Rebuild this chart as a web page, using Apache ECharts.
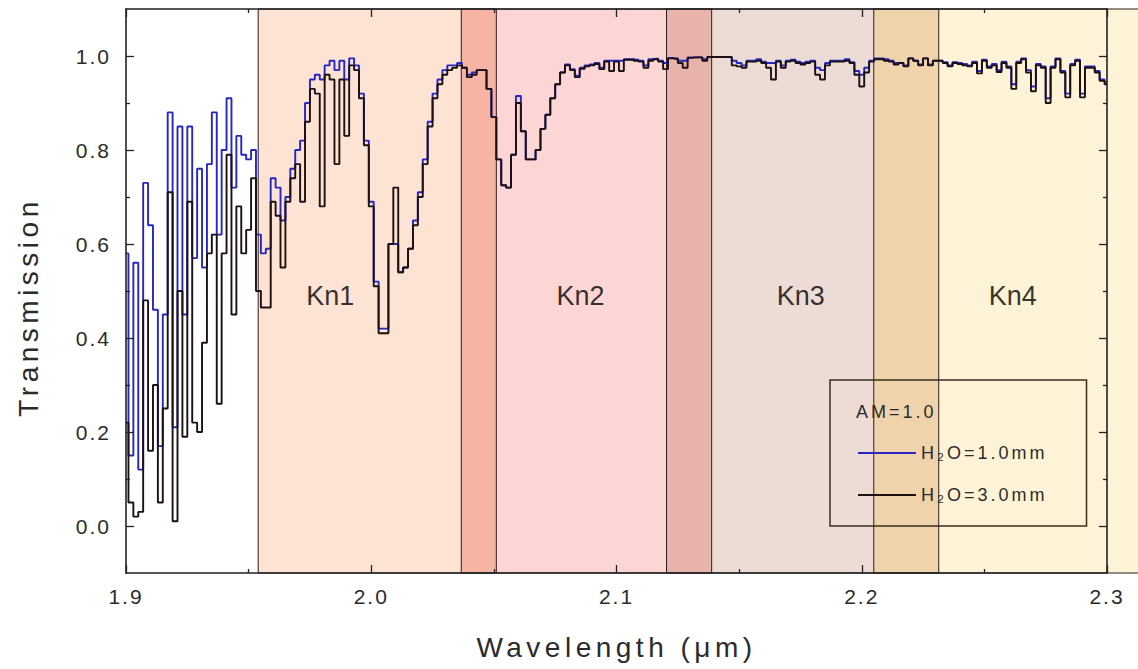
<!DOCTYPE html>
<html><head><meta charset="utf-8">
<script src="https://cdn.jsdelivr.net/npm/echarts@6/dist/echarts.min.js"></script>
<style>
html,body{margin:0;padding:0;background:#fff;}
#chart{width:1138px;height:669px;}
#chart text{letter-spacing:3px;}
#chart text[style*="21px"]{letter-spacing:2px;}
#chart text[style*="28px"]{letter-spacing:4.5px;}
#chart text[style*="27px"]{letter-spacing:0;}
</style>
</head><body><div id="chart"></div>
<script>
// ---- data ----
const WL_START = 1.9, WL_STEP = 0.002;   // wavelength grid (µm)
const trans1mm = [
.58,.15,.56,.12,.73,.64,.46,.17,.45,.88,
.21,.85,.45,.85,.57,.76,.55,.77,.88,.62,
.80,.91,.72,.83,.79,.78,.80,.62,.58,.59,
.74,.72,.65,.70,.76,.80,.82,.90,.95,.96,
.95,.98,.99,.97,.99,.95,.995,.98,.92,.82,
.69,.52,.42,.42,.60,.60,.54,.55,.59,.65,
.71,.78,.86,.92,.95,.97,.98,.98,.985,.975,
.96,.965,.97,.97,.93,.87,.78,.725,.72,.79,
.915,.84,.78,.78,.80,.845,.875,.91,.94,.965,
.982,.972,.958,.975,.98,.982,.985,.975,.99,.99,
.99,.99,.993,.993,.992,.99,.98,.993,.994,.99,
.985,.996,.995,.99,.99,.997,.997,.997,.993,.998,
.998,.998,.998,.998,.99,.985,.98,.99,.99,.993,
.988,.985,.985,.99,.98,.99,.992,.988,.985,.988,
.99,.975,.97,.985,.99,.99,.99,.993,.987,.968,
.96,.975,.99,.995,.995,.993,.99,.985,.985,.98,
.995,.99,.982,.995,.982,.99,.99,.987,.98,.987,
.985,.983,.98,.988,.968,.992,.978,.983,.97,.988,
.978,.94,.988,.995,.97,.935,.983,.978,.91,.978,
.995,.968,.92,.983,.992,.92,.978,.978,.968,.95,.945];
const trans3mm = [
.22,.05,.02,.03,.48,.16,.30,.05,.25,.71,
.01,.50,.19,.69,.22,.20,.39,.58,.62,.26,
.58,.79,.45,.68,.58,.63,.74,.50,.465,.465,
.69,.66,.55,.69,.74,.77,.69,.86,.93,.92,
.68,.96,.95,.77,.95,.83,.98,.97,.91,.81,
.68,.51,.41,.41,.60,.72,.54,.55,.59,.64,
.70,.77,.85,.91,.94,.96,.97,.975,.98,.975,
.955,.96,.97,.97,.93,.87,.78,.725,.72,.79,
.90,.84,.78,.78,.80,.845,.875,.91,.94,.965,
.98,.97,.955,.973,.978,.98,.983,.972,.988,.968,
.988,.968,.992,.992,.99,.988,.975,.99,.993,.988,
.972,.995,.994,.985,.975,.996,.997,.997,.99,.998,
.998,.998,.998,.998,.98,.978,.975,.988,.988,.99,
.985,.975,.95,.988,.975,.988,.99,.985,.982,.985,
.988,.96,.95,.98,.988,.988,.988,.99,.985,.96,
.935,.965,.988,.993,.993,.99,.988,.982,.985,.978,
.995,.99,.98,.995,.98,.99,.99,.985,.978,.985,
.983,.98,.978,.985,.963,.99,.975,.98,.966,.985,
.975,.93,.985,.993,.965,.925,.98,.975,.90,.975,
.993,.965,.912,.98,.99,.912,.975,.975,.965,.947,.94];
const seriesNames = ['H\u2082O=1.0mm', 'H\u2082O=3.0mm'];
const bandNames  = ['Kn1', 'Kn2', 'Kn3', 'Kn4'];
const bandStart  = [1.9539, 2.0367, 2.1204, 2.2049];
const bandEnd    = [2.0510, 2.1388, 2.2314, 2.33];
const bandLabelX = [1.9833, 2.0853, 2.1751, 2.2616];
const bandLabelY = 0.49;
const yMajorTicks = [0, 0.2, 0.4, 0.6, 0.8, 1.0];
const yMinorTicks = [0.1, 0.3, 0.5, 0.7, 0.9];
const X_MIN = 1.9, X_MAX = 2.3, Y_MIN = -0.1, Y_MAX = 1.1;
const legendTitle = 'AM=1.0';

// ---- style ----
const FONT = '"Liberation Sans", Arial, sans-serif';
const AX = '#222222', TXT = '#2b2b2b';
const bandColors = ['#fde3d3', '#fcd6d4', '#ecdcd5', '#fef3d6'];
const overlapColors = ['#f7b3a4', '#e8b3aa', '#efd3aa'];

const wavelengths = trans1mm.map((_, i) => +(WL_START + i * WL_STEP).toFixed(4));
const overlaps = [];
for (let i = 0; i < bandStart.length - 1; i++) {
  if (bandEnd[i] > bandStart[i + 1]) overlaps.push([bandStart[i + 1], bandEnd[i], i]);
}

function rectItem(fill, stroke) {
  return function (params, api) {
    const p0 = api.coord([api.value(0), Y_MAX]);
    const p1 = api.coord([api.value(1), Y_MIN]);
    return {
      type: 'rect',
      shape: { x: p0[0], y: p0[1], width: p1[0] - p0[0], height: p1[1] - p0[1] },
      style: stroke ? { fill: 'none', stroke: stroke, lineWidth: 1 }
                    : { fill: fill[api.value(2)] }
    };
  };
}

const gridBox = { left: 126, right: 31, top: 9, bottom: 96 };
const chart = echarts.init(document.getElementById('chart'), null, { renderer: 'svg' });
const xCommon = { type: 'value', min: X_MIN, max: X_MAX, interval: 0.1, z: 10 };
const yCommon = { type: 'value', min: Y_MIN, max: Y_MAX, z: 10, splitLine: { show: false } };
const axLine = { show: true, onZero: false, lineStyle: { color: AX, width: 1.6 } };
chart.setOption({
  animation: false,
  backgroundColor: '#fff',
  textStyle: { fontFamily: FONT },
  title: {
    text: legendTitle, left: 856, top: 403, padding: 0,
    textStyle: { fontSize: 18, fontWeight: 'normal', color: TXT, fontFamily: FONT }
  },
  legend: {
    data: seriesNames, orient: 'vertical', left: 830, top: 380,
    padding: [64, 66, 22, 27], itemWidth: 58, itemHeight: 14, itemGap: 24,
    borderColor: '#3b2c22', borderWidth: 1.5, z: 12,
    itemStyle: { opacity: 0 },
    textStyle: { fontSize: 18, color: TXT, fontFamily: FONT }
  },
  grid: [Object.assign({}, gridBox), Object.assign({}, gridBox)],
  xAxis: [
    Object.assign({}, xCommon, {
      gridIndex: 0, position: 'bottom',
      name: 'Wavelength (\u03bcm)', nameLocation: 'middle', nameGap: 60,
      nameTextStyle: { fontSize: 28, color: TXT, fontFamily: FONT },
      axisLine: axLine,
      axisTick: { show: true, inside: true, length: 8, lineStyle: { color: AX, width: 1.3 } },
      minorTick: { show: true, splitNumber: 2, length: 4, lineStyle: { color: AX, width: 1.3 } },
      axisLabel: { fontSize: 21, color: TXT, margin: 13, formatter: v => v.toFixed(1) },
      splitLine: { show: false }
    }),
    Object.assign({}, xCommon, {
      gridIndex: 0, position: 'top',
      axisLine: axLine,
      axisTick: { show: true, inside: true, length: 8, lineStyle: { color: AX, width: 1.3 } },
      minorTick: { show: true, splitNumber: 2, length: 4, lineStyle: { color: AX, width: 1.3 } },
      axisLabel: { show: false }, splitLine: { show: false }
    }),
    Object.assign({}, xCommon, { gridIndex: 1, show: false })
  ],
  yAxis: [
    Object.assign({}, yCommon, {
      gridIndex: 0, position: 'left',
      name: 'Transmission', nameLocation: 'middle', nameRotate: 90, nameGap: 84,
      nameTextStyle: { fontSize: 28, color: TXT, fontFamily: FONT, padding: [0, 32, 0, 0] },
      axisLine: axLine,
      axisTick: { show: true, inside: true, length: 8, customValues: yMajorTicks, lineStyle: { color: AX, width: 1.3 } },
      axisLabel: { fontSize: 21, color: TXT, margin: 15, customValues: yMajorTicks, formatter: v => v.toFixed(1) }
    }),
    Object.assign({}, yCommon, {
      gridIndex: 0, position: 'right',
      axisLine: axLine,
      axisTick: { show: true, inside: true, length: 8, customValues: yMajorTicks, lineStyle: { color: AX, width: 1.3 } },
      axisLabel: { show: false }
    }),
    Object.assign({}, yCommon, {
      gridIndex: 1, position: 'left',
      axisLine: { show: false },
      axisTick: { show: true, inside: true, length: 4, customValues: yMinorTicks, lineStyle: { color: AX, width: 1.3 } },
      axisLabel: { show: false }
    }),
    Object.assign({}, yCommon, {
      gridIndex: 1, position: 'right',
      axisLine: { show: false },
      axisTick: { show: true, inside: true, length: 4, customValues: yMinorTicks, lineStyle: { color: AX, width: 1.3 } },
      axisLabel: { show: false }
    })
  ],
  series: [
    {
      type: 'custom', name: 'bands', silent: true, z: 1, clip: false,
      data: bandNames.map((n, i) => [bandStart[i], bandEnd[i], i]),
      encode: { x: [0, 1] },
      renderItem: rectItem(bandColors)
    },
    {
      type: 'custom', name: 'overlaps', silent: true, z: 2, clip: false,
      data: overlaps, encode: { x: [0, 1] },
      renderItem: rectItem(overlapColors)
    },
    {
      type: 'custom', name: 'edges', silent: true, z: 3, clip: false,
      data: bandNames.map((n, i) => [bandStart[i], bandEnd[i], i]),
      encode: { x: [0, 1] },
      renderItem: rectItem(null, '#2a1c1c')
    },
    {
      type: 'scatter', name: 'labels', silent: true, z: 4, symbolSize: 0,
      data: bandLabelX.map((x, i) => [x, bandLabelY, bandNames[i]]),
      label: { show: true, position: 'inside', formatter: p => p.value[2],
               fontSize: 27, color: '#000', fontFamily: FONT }
    },
    {
      type: 'line', name: seriesNames[0], z: 5, step: 'middle', symbol: 'none',
      data: wavelengths.map((w, i) => [w, trans1mm[i]]),
      lineStyle: { color: '#2626c4', width: 1.9 }, itemStyle: { color: '#2626c4' }
    },
    {
      type: 'line', name: seriesNames[1], z: 6, step: 'middle', symbol: 'none',
      data: wavelengths.map((w, i) => [w, trans3mm[i]]),
      lineStyle: { color: '#1c1010', width: 1.9 }, itemStyle: { color: '#1c1010' }
    }
  ]
});
</script>
</body></html>
